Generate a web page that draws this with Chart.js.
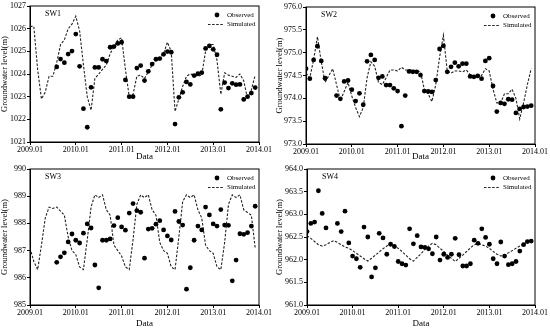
<!DOCTYPE html>
<html>
<head>
<meta charset="utf-8">
<script src="https://cdn.jsdelivr.net/npm/chart.js@4.4.1/dist/chart.umd.min.js"></script>
<style>
  body { margin: 0; background: #fff; }
  .panel { position: absolute; }
</style>
</head>
<body>
<div class="panel" style="left:0;top:0"><canvas id="sw1" width="275" height="163"></canvas></div>
<div class="panel" style="left:275px;top:0"><canvas id="sw2" width="275" height="163"></canvas></div>
<div class="panel" style="left:0;top:163px"><canvas id="sw3" width="275" height="167"></canvas></div>
<div class="panel" style="left:275px;top:163px"><canvas id="sw4" width="275" height="167"></canvas></div>
<script>
// x = month index counted from 2009.01
const yearLabels = ['2009.01', '2010.01', '2011.01', '2012.01', '2013.01', '2014.01'];

const sw1Obs = [null, null, null, null, null, null, null,
  1024.31, 1024.66, 1024.50, 1024.88, 1025.01, 1025.76, 1024.34, 1022.47, 1021.65, 1023.41,
  1024.29, 1024.29, 1024.65, 1024.57, 1025.18, 1025.21, 1025.35, 1025.40, 1023.74, 1023.00,
  1023.00, 1024.26, 1024.37, 1023.71, 1024.12, 1024.44, 1024.65, 1024.68, 1024.87, 1024.99,
  1024.96, 1021.79, 1022.97, 1023.19, 1023.65, 1023.54, 1023.93, 1024.01, 1024.06, 1025.13,
  1025.24, 1025.09, 1024.85, 1022.44, 1023.62, 1023.38, 1023.59, 1023.53, 1023.54, 1022.88,
  1023.00, 1023.16, 1023.40];
const sw1Sim = [1026.1, 1026.1, 1024.2, 1022.9, 1023.2, 1023.9, 1023.9, 1024.5, 1025.3, 1025.5,
  1026.0, 1026.2, 1026.55, 1025.9, 1024.4, 1023.0, 1022.4, 1023.8, 1024.0, 1024.2,
  1024.4, 1024.9, 1025.2, 1025.5, 1025.6, 1024.2, 1023.0, 1023.1, 1023.9, 1023.95,
  1023.8, 1024.1, 1024.4, 1024.6, 1024.7, 1024.9, 1025.4, 1025.0, 1022.35, 1022.9,
  1023.45, 1023.9, 1024.0, 1023.95, 1023.9, 1023.95, 1025.0, 1025.3, 1025.3, 1024.6,
  1023.1, 1024.05, 1023.95, 1023.9, 1023.85, 1024.0, 1023.7, 1022.9, 1023.3, 1023.95];

const sw2Obs = [974.65, 974.43, 974.84, 975.14, 974.82, 974.44, null, null,
  974.06, 973.99, 974.37, 974.39, 974.19, 973.94, 974.11, 973.86, 974.81, 974.95,
  974.84, 974.45, 974.48, 974.29, 974.29, 974.22, 974.16, 973.39, 974.06, 974.59,
  974.58, 974.58, 974.51, 974.16, 974.15, 974.14, 974.40, 975.08, 975.15, 974.58,
  974.69, 974.78, 974.70, 974.76, 974.76, 974.48, 974.47, 974.49, 974.43, 974.82,
  974.88, 974.27, 973.71, 973.90, 973.88, 973.98, 973.97, 973.68, 973.77, 973.81,
  973.82, 973.84];
const sw2Sim = [974.55, 974.45, 974.85, 975.35, 974.8, 974.35, 974.5, 974.65, 974.3, 973.95,
  974.15, 974.35, 974.05, 973.8, 973.6, 973.8, 974.45, 974.8, 974.7, 974.35,
  974.3, 974.45, 974.62, 974.62, 974.6, 974.68, 974.62, 974.62, 974.62, 974.6,
  974.58, 974.2, 974.1, 973.93, 974.3, 974.9, 975.38, 974.6, 974.55, 974.6,
  974.6, 974.58, 974.62, 974.52, 974.5, 974.5, 974.5, 974.65, 974.6, 974.2,
  973.9, 973.9, 974.1, 974.1, 974.2, 974.0, 973.55, 973.9, 974.3, 974.65];

const sw3Obs = [null, null, null, null, null, null, null,
  986.57, 986.77, 986.92, 987.32, 987.61, 987.38, 987.28, 987.64, 987.98, 987.83,
  986.47, 985.63, 987.38, 987.38, 987.43, 987.92, 988.21, 987.87, 987.75, 988.38,
  988.73, 988.47, 988.41, 986.72, 987.79, 987.82, 987.97, 988.10, 987.76, 987.54,
  987.39, 988.44, 988.07, 987.94, 985.58, 986.37, 987.38, 987.90, 987.76, 988.60,
  988.31, 987.98, 987.90, 988.51, 987.94, 987.93, 985.89, 986.65, 987.62, 987.60,
  987.66, 987.90, 988.63];
const sw3Sim = [987.1, 986.6, 986.3, 987.2, 988.2, 988.6, 988.55, 988.6, 988.45, 988.3,
  987.5, 987.0, 986.85, 986.4, 986.3, 987.4, 988.6, 989.05, 988.95, 989.05,
  988.5, 988.3, 987.2, 987.0, 986.8, 986.4, 986.3, 987.4, 988.7, 989.05,
  988.95, 989.05, 988.5, 988.3, 987.3, 987.0, 986.9, 986.4, 986.3, 987.5,
  988.8, 989.05, 988.95, 989.05, 988.5, 988.2, 987.2, 987.0, 986.9, 986.4,
  986.3, 987.3, 988.7, 989.05, 988.95, 989.05, 988.5, 988.4, 988.3, 987.1];

const sw4Obs = [962.62, 962.80, 962.83, 963.52, 963.02, 962.70, null, null,
  962.80, 962.62, 963.07, 962.37, 962.08, 962.02, 961.83, 962.72, 962.50, 961.62,
  961.82, 962.58, 962.48, 962.12, 962.34, 962.29, 961.96, 961.91, 961.88, 962.68,
  962.35, 962.53, 962.28, 962.27, 962.24, 962.13, 962.50, 961.99, 962.12, 962.05,
  962.12, 962.47, 962.11, 961.86, 961.86, 961.91, 962.43, 962.36, 962.68, 962.49,
  962.34, 962.02, 961.91, 962.39, 962.08, 961.89, 961.91, 961.96, 962.19, 962.33,
  962.40, 962.41];
const sw4Sim = [962.53, 962.47, 962.4, 962.33, 962.3, 962.33, 962.38, 962.42, 962.38, 962.33,
  962.28, 962.25, 962.2, 962.14, 962.08, 962.02, 961.97, 962.03, 962.1, 962.17,
  962.24, 962.3, 962.34, 962.3, 962.25, 962.18, 962.1, 962.02, 961.97, 962.05,
  962.13, 962.22, 962.3, 962.36, 962.33, 962.25, 962.18, 962.1, 962.03, 961.96,
  962.03, 962.1, 962.18, 962.26, 962.33, 962.35, 962.33, 962.3, 962.25, 962.18,
  962.12, 962.08, 962.1, 962.15, 962.2, 962.25, 962.3, 962.35, 962.39, 962.41];

Chart.defaults.font.family = '"Liberation Serif", "Times New Roman", serif';
Chart.defaults.font.size = 8;
Chart.defaults.color = '#000';

function toPoints(values) {
  return values.map((v, i) => ({ x: i, y: v })).filter(p => p.y !== null);
}

// frame around the plot, station name and the legend inside the plot
const framePlugin = {
  id: 'frame',
  afterDraw(chart, args, opts) {
    const { ctx, chartArea: a } = chart;
    const [obs, sim] = chart.data.datasets;
    ctx.save();
    ctx.strokeStyle = '#000';
    ctx.lineWidth = 1;
    ctx.strokeRect(a.left, a.top, a.right - a.left, a.bottom - a.top);
    ctx.fillStyle = '#000';
    ctx.textBaseline = 'middle';
    ctx.font = '8px "Liberation Serif", serif';
    ctx.fillText(opts.name, a.left + 15, a.top + 8);

    const y1 = a.top + 9, y2 = a.top + 18.5;
    ctx.beginPath();
    ctx.arc(a.right - 42, y1, obs.pointRadius, 0, Math.PI * 2);
    ctx.fill();
    ctx.strokeStyle = sim.borderColor;
    ctx.lineWidth = sim.borderWidth;
    ctx.setLineDash(sim.borderDash);
    ctx.beginPath();
    ctx.moveTo(a.right - 51, y2);
    ctx.lineTo(a.right - 35, y2);
    ctx.stroke();
    ctx.setLineDash([]);
    ctx.font = '7px "Liberation Serif", serif';
    ctx.fillText(obs.label, a.right - 32, y1);
    ctx.fillText(sim.label, a.right - 32, y2);
    ctx.restore();
  }
};

function makeChart(id, name, obs, sim, yMin, yMax, yStep, decimals, area) {
  const canvas = document.getElementById(id);
  return new Chart(canvas, {
    type: 'line',
    data: {
      datasets: [{
        label: 'Observed',
        data: toPoints(obs),
        showLine: false,
        pointRadius: 2.4,
        pointBorderWidth: 0,
        pointBackgroundColor: '#000',
        borderColor: '#000'
      }, {
        label: 'Simulated',
        data: toPoints(sim),
        borderColor: '#222',
        borderWidth: 1.1,
        borderDash: [2.5, 1.6],
        pointRadius: 0,
        tension: 0,
        fill: false
      }]
    },
    options: {
      responsive: false,
      animation: false,
      layout: {
        padding: { top: area.top, right: canvas.width - area.right, left: 0, bottom: 0 }
      },
      plugins: {
        legend: { display: false },
        tooltip: { enabled: false },
        frame: { name: name }
      },
      scales: {
        x: {
          type: 'linear',
          min: 0,
          max: 60,
          afterFit: s => { s.height = canvas.height - area.bottom; },
          ticks: {
            stepSize: 12,
            maxRotation: 0,
            padding: 0,
            callback: v => yearLabels[v / 12]
          },
          grid: { drawOnChartArea: false, tickLength: 3, color: '#000' },
          border: { color: '#000' },
          title: { display: true, text: 'Data', font: { size: 9 }, padding: { top: 0, bottom: 1 } }
        },
        y: {
          min: yMin,
          max: yMax,
          afterFit: s => { s.width = area.left; },
          ticks: {
            stepSize: yStep,
            padding: 1,
            callback: v => v.toFixed(decimals)
          },
          grid: { drawOnChartArea: false, tickLength: 3, color: '#000' },
          border: { color: '#000' },
          title: { display: true, text: 'Groundwater level(m)', font: { size: 8.5 }, padding: { top: 0, bottom: 0 } }
        }
      }
    },
    plugins: [framePlugin]
  });
}

makeChart('sw1', 'SW1', sw1Obs, sw1Sim, 1021, 1027, 1, 0, { left: 30, top: 6, right: 259, bottom: 142 });
makeChart('sw2', 'SW2', sw2Obs, sw2Sim, 973, 976, 0.5, 1, { left: 31, top: 7, right: 260, bottom: 144 });
makeChart('sw3', 'SW3', sw3Obs, sw3Sim, 985, 990, 1, 0, { left: 30, top: 6, right: 259, bottom: 142 });
makeChart('sw4', 'SW4', sw4Obs, sw4Sim, 961, 964, 0.5, 1, { left: 32, top: 6, right: 260, bottom: 142 });
</script>
</body>
</html>
